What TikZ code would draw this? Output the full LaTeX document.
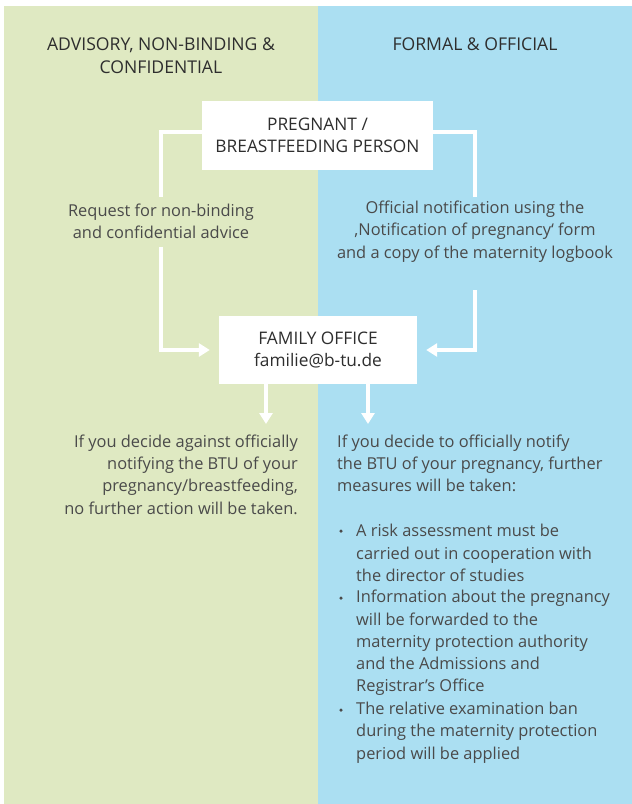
\documentclass[tikz,border=0pt]{standalone}
\usepackage{fontspec}
\setmainfont{Open Sans}
\usetikzlibrary{arrows.meta,positioning}

\definecolor{advgreen}{HTML}{DFE9C2}
\definecolor{offblue}{HTML}{ABDFF2}
\definecolor{bodygray}{HTML}{4A4A4A}
\definecolor{headgray}{HTML}{2E2E2E}

\tikzset{
  heading/.style  = {align=center, text=headgray,
                     font=\fontsize{17.6}{23}\selectfont},
  whitebox/.style = {rectangle, fill=white, align=center, text=headgray,
                     font=\fontsize{17.3}{22.3}\selectfont},
  note/.style     = {text=bodygray, inner sep=2pt,
                     font=\fontsize{16.4}{22.3}\selectfont},
  bullet/.style   = {circle, fill=bodygray, inner sep=0pt, minimum size=3.5pt},
  link/.style     = {draw=white, line width=4pt},
  linkarrow/.style = {link, -{Triangle[width=13pt,length=11pt]}}
}

\begin{document}
\begin{tikzpicture}[x=1pt,y=-1pt]
\useasboundingbox (0,0) rectangle (632,804);
\fill[white] (0,0) rectangle (632,804);
\fill[advgreen] (4,6) rectangle (318,804);
\fill[offblue] (318,6) rectangle (632,804);

% column headings
\node[heading] (advhead) at (161,55.5) {ADVISORY, NON-BINDING \&\\CONFIDENTIAL};
\node[heading] (formhead) at (475,44) {FORMAL \& OFFICIAL};

\node[whitebox, minimum width=231pt, minimum height=69pt] (person) at (317.5,135.5)
  {PREGNANT /\\BREASTFEEDING PERSON};

\node[note, align=center] (advice) at (161,221)
  {Request for non-binding\\and confidential advice};
\node[note, align=center] (notice) at (475,231.5)
  {Official notification using the\\‚Notification of pregnancy‘ form\\and a copy of the maternity logbook};

\node[whitebox, minimum width=198pt, minimum height=68pt] (family) at (318,350)
  {FAMILY OFFICE\\familie@b-tu.de};

\coordinate (leftdrop) at (266,424);
\coordinate (rightdrop) at (368,424);

\node[note, align=right, anchor=east] (against) at (300,474.5)
  {If you decide against officially\\notifying the BTU of your\\pregnancy/breastfeeding,\\no further action will be taken.};
\node[note, align=left, anchor=west] (notify) at (335,463.5)
  {If you decide to officially notify\\the BTU of your pregnancy, further\\measures will be taken:};

% measures list
\node[bullet] (dot1) at (341,531) {};
\node[bullet] (dot2) at (341,598) {};
\node[bullet] (dot3) at (341,710) {};
\node[note, align=left, anchor=west] (riskitem) at (354,553)
  {A risk assessment must be\\carried out in cooperation with\\the director of studies};
\node[note, align=left, anchor=west] (infoitem) at (354,643)
  {Information about the pregnancy\\will be forwarded to the\\maternity protection authority\\and the Admissions and\\Registrar’s Office};
\node[note, align=left, anchor=west] (banitem) at (354,732.5)
  {The relative examination ban\\during the maternity protection\\period will be applied};

% connectors
\draw[link] ([yshift=4pt]person.west) -| ([yshift=4pt]advice.north);
\draw[link] ([yshift=4pt]person.east) -| ([yshift=2pt]notice.north);
\draw[linkarrow, shorten >=9pt] ([yshift=-6pt]advice.south) |- (family.west);
\draw[linkarrow, shorten >=9pt] ([yshift=-26pt]notice.south) |- (family.east);
\draw[linkarrow] (family.south -| leftdrop) -- (leftdrop);
\draw[linkarrow] (family.south -| rightdrop) -- (rightdrop);
\end{tikzpicture}
\end{document}
